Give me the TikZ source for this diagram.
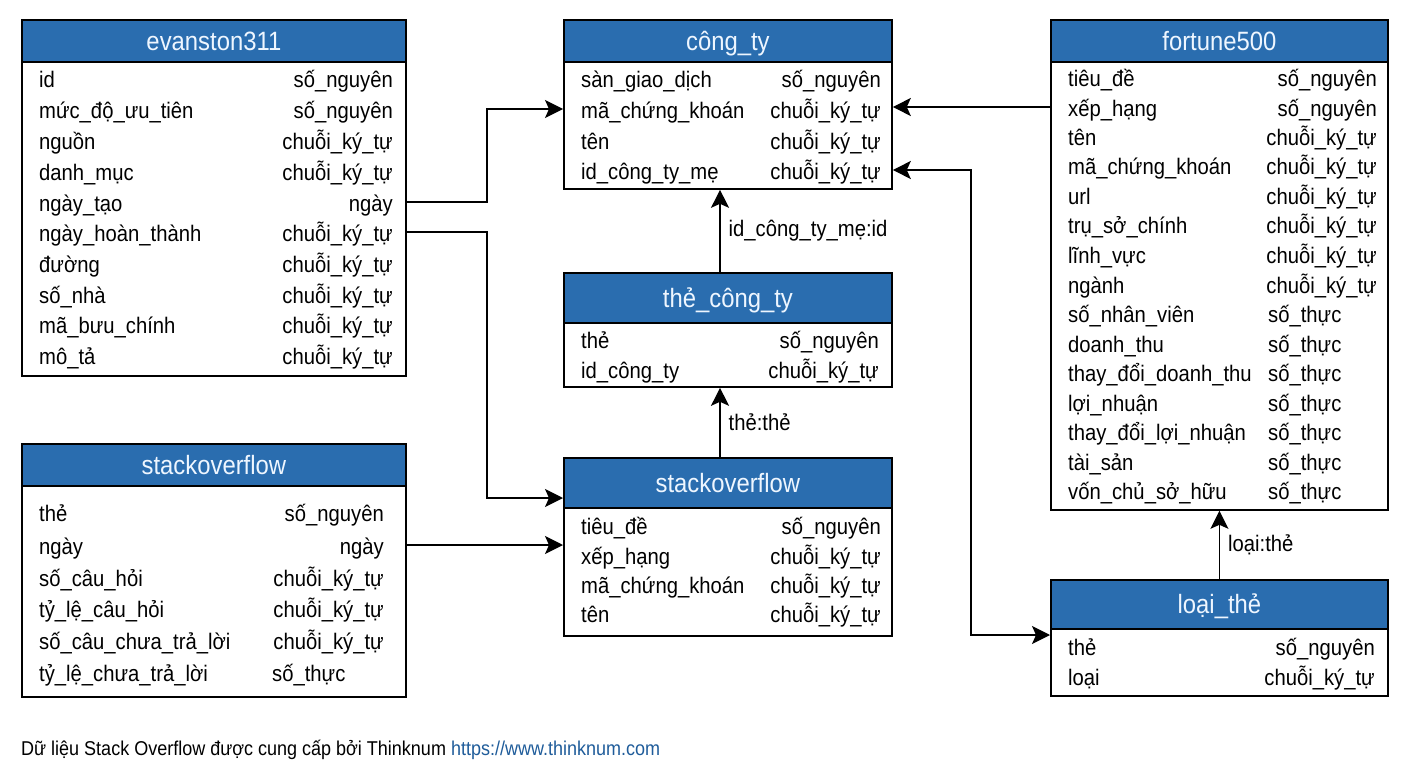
\documentclass[tikz,border=0pt]{standalone}
\usepackage{fontspec}
\setmainfont{Liberation Sans}[FakeStretch=0.9]
\usepackage{tikz}
\usetikzlibrary{arrows.meta,positioning,calc}
\definecolor{hdrblue}{HTML}{2A6DAF}
\definecolor{hdrtext}{HTML}{EEF6FF}
\definecolor{urlblue}{HTML}{1F5C9A}

\begin{document}
\begin{tikzpicture}[
    x=1pt, y=-1pt,
    % --- STYLES ---
    tbody/.style={
        rectangle, draw=black, line width=1.8pt,
        fill=white, anchor=north west, inner sep=0pt
    },
    thead/.style={
        tbody, fill=hdrblue, text=hdrtext,
        text height=21pt, text depth=2pt,
        font=\fontsize{26.5}{30}\selectfont
    },
    fname/.style={anchor=west, inner sep=0pt, text height=20pt, text depth=2pt,
        font=\fontsize{22.5}{27}\selectfont},
    ftype/.style={fname, anchor=east},
    freal/.style={fname, anchor=west},
    lbl/.style={font=\fontsize{22.5}{27}\selectfont, inner sep=0pt, right=8pt},
    link/.style={-{Stealth[length=18pt, width=18pt, inset=4pt]}, line width=1.4pt},
    twoway/.style={{Stealth[length=18pt, width=18pt, inset=4pt]}-{Stealth[length=18pt, width=18pt, inset=4pt]}, line width=1.4pt}
]
\useasboundingbox (0,0) rectangle (1408,768);

% ===== 1. TABLE BOXES =====
\node[tbody, minimum width=384pt, minimum height=356pt] (ev) at (21,19) {};
\node[thead, minimum width=384pt, minimum height=42pt] (ev-h) at (21,19) {evanston311};

\node[tbody, minimum width=328pt, minimum height=169pt] (ct) at (563,19) {};
\node[thead, minimum width=328pt, minimum height=42pt] (ct-h) at (563,19) {công\_ty};

\node[tbody, minimum width=328pt, minimum height=114pt] (tct) at (563,272) {};
\node[thead, minimum width=328pt, minimum height=50pt] (tct-h) at (563,272) {thẻ\_công\_ty};

\node[tbody, minimum width=328pt, minimum height=178pt] (so2) at (563,457) {};
\node[thead, minimum width=328pt, minimum height=50pt] (so2-h) at (563,457) {stackoverflow};

\node[tbody, minimum width=337pt, minimum height=490pt] (fo) at (1050,19) {};
\node[thead, minimum width=337pt, minimum height=42pt] (fo-h) at (1050,19) {fortune500};

\node[tbody, minimum width=384pt, minimum height=253pt] (so) at (21,443) {};
\node[thead, minimum width=384pt, minimum height=42pt] (so-h) at (21,443) {stackoverflow};

\node[tbody, minimum width=337pt, minimum height=116pt] (lt) at (1050,579) {};
\node[thead, minimum width=337pt, minimum height=49pt] (lt-h) at (1050,579) {loại\_thẻ};

% ===== 2. FIELDS =====
% evanston311
\node[fname] (ev-n1) at (39,78) {id};                 \node[ftype] (ev-t1) at (393,78) {số\_nguyên};
\node[fname] (ev-n2) at (39,109) {mức\_độ\_ưu\_tiên};  \node[ftype] (ev-t2) at (393,109) {số\_nguyên};
\node[fname] (ev-n3) at (39,140) {nguồn};              \node[ftype] (ev-t3) at (393,140) {chuỗi\_ký\_tự};
\node[fname] (ev-n4) at (39,171) {danh\_mục};          \node[ftype] (ev-t4) at (393,171) {chuỗi\_ký\_tự};
\node[fname] (ev-n5) at (39,202) {ngày\_tạo};          \node[ftype] (ev-t5) at (393,202) {ngày};
\node[fname] (ev-n6) at (39,232) {ngày\_hoàn\_thành};  \node[ftype] (ev-t6) at (393,232) {chuỗi\_ký\_tự};
\node[fname] (ev-n7) at (39,263) {đường};              \node[ftype] (ev-t7) at (393,263) {chuỗi\_ký\_tự};
\node[fname] (ev-n8) at (39,294) {số\_nhà};            \node[ftype] (ev-t8) at (393,294) {chuỗi\_ký\_tự};
\node[fname] (ev-n9) at (39,324) {mã\_bưu\_chính};     \node[ftype] (ev-t9) at (393,324) {chuỗi\_ký\_tự};
\node[fname] (ev-n10) at (39,355) {mô\_tả};            \node[ftype] (ev-t10) at (393,355) {chuỗi\_ký\_tự};

% công_ty
\node[fname] (ct-n1) at (581,79) {sàn\_giao\_dịch};    \node[ftype] (ct-t1) at (881,79) {số\_nguyên};
\node[fname] (ct-n2) at (581,109) {mã\_chứng\_khoán};  \node[ftype] (ct-t2) at (881,109) {chuỗi\_ký\_tự};
\node[fname] (ct-n3) at (581,140) {tên};               \node[ftype] (ct-t3) at (881,140) {chuỗi\_ký\_tự};
\node[fname] (ct-n4) at (581,170) {id\_công\_ty\_mẹ};  \node[ftype] (ct-t4) at (881,170) {chuỗi\_ký\_tự};

% thẻ_công_ty
\node[fname] (tct-n1) at (581,339) {thẻ};              \node[ftype] (tct-t1) at (879,339) {số\_nguyên};
\node[fname] (tct-n2) at (581,369) {id\_công\_ty};     \node[ftype] (tct-t2) at (879,369) {chuỗi\_ký\_tự};

% stackoverflow (giữa)
\node[fname] (so2-n1) at (581,525) {tiêu\_đề};         \node[ftype] (so2-t1) at (881,525) {số\_nguyên};
\node[fname] (so2-n2) at (581,555) {xếp\_hạng};        \node[ftype] (so2-t2) at (881,555) {chuỗi\_ký\_tự};
\node[fname] (so2-n3) at (581,584) {mã\_chứng\_khoán}; \node[ftype] (so2-t3) at (881,584) {chuỗi\_ký\_tự};
\node[fname] (so2-n4) at (581,613) {tên};              \node[ftype] (so2-t4) at (881,613) {chuỗi\_ký\_tự};

% fortune500
\node[fname] (fo-n1) at (1068,77) {tiêu\_đề};          \node[ftype] (fo-t1) at (1377,77) {số\_nguyên};
\node[fname] (fo-n2) at (1068,107) {xếp\_hạng};        \node[ftype] (fo-t2) at (1377,107) {số\_nguyên};
\node[fname] (fo-n3) at (1068,136) {tên};              \node[ftype] (fo-t3) at (1377,136) {chuỗi\_ký\_tự};
\node[fname] (fo-n4) at (1068,165) {mã\_chứng\_khoán}; \node[ftype] (fo-t4) at (1377,165) {chuỗi\_ký\_tự};
\node[fname] (fo-n5) at (1068,195) {url};              \node[ftype] (fo-t5) at (1377,195) {chuỗi\_ký\_tự};
\node[fname] (fo-n6) at (1068,224) {trụ\_sở\_chính};   \node[ftype] (fo-t6) at (1377,224) {chuỗi\_ký\_tự};
\node[fname] (fo-n7) at (1068,254) {lĩnh\_vực};        \node[ftype] (fo-t7) at (1377,254) {chuỗi\_ký\_tự};
\node[fname] (fo-n8) at (1068,284) {ngành};            \node[ftype] (fo-t8) at (1377,284) {chuỗi\_ký\_tự};
\node[fname] (fo-n9) at (1068,313) {số\_nhân\_viên};   \node[freal] (fo-t9) at (1268,313) {số\_thực};
\node[fname] (fo-n10) at (1068,343) {doanh\_thu};      \node[freal] (fo-t10) at (1268,343) {số\_thực};
\node[fname] (fo-n11) at (1068,372) {thay\_đổi\_doanh\_thu}; \node[freal] (fo-t11) at (1268,372) {số\_thực};
\node[fname] (fo-n12) at (1068,402) {lợi\_nhuận};      \node[freal] (fo-t12) at (1268,402) {số\_thực};
\node[fname] (fo-n13) at (1068,431) {thay\_đổi\_lợi\_nhuận}; \node[freal] (fo-t13) at (1268,431) {số\_thực};
\node[fname] (fo-n14) at (1068,461) {tài\_sản};        \node[freal] (fo-t14) at (1268,461) {số\_thực};
\node[fname] (fo-n15) at (1068,490) {vốn\_chủ\_sở\_hữu}; \node[freal] (fo-t15) at (1268,490) {số\_thực};

% stackoverflow (trái)
\node[fname] (so-n1) at (39,512) {thẻ};                \node[ftype] (so-t1) at (384,512) {số\_nguyên};
\node[fname] (so-n2) at (39,545) {ngày};               \node[ftype] (so-t2) at (384,545) {ngày};
\node[fname] (so-n3) at (39,577) {số\_câu\_hỏi};       \node[ftype] (so-t3) at (384,577) {chuỗi\_ký\_tự};
\node[fname] (so-n4) at (39,608) {tỷ\_lệ\_câu\_hỏi};   \node[ftype] (so-t4) at (384,608) {chuỗi\_ký\_tự};
\node[fname] (so-n5) at (39,640) {số\_câu\_chưa\_trả\_lời}; \node[ftype] (so-t5) at (384,640) {chuỗi\_ký\_tự};
\node[fname] (so-n6) at (39,672) {tỷ\_lệ\_chưa\_trả\_lời}; \node[freal] (so-t6) at (272,672) {số\_thực};

% loại_thẻ
\node[fname] (lt-n1) at (1068,646) {thẻ};              \node[ftype] (lt-t1) at (1375,646) {số\_nguyên};
\node[fname] (lt-n2) at (1068,676) {loại};             \node[ftype] (lt-t2) at (1375,676) {chuỗi\_ký\_tự};

% ===== 3. CONNECTIONS =====
\coordinate (bendL) at (487,0);
\coordinate (bendR) at (971,0);
\coordinate (midX) at (720,0);
\coordinate (so2-in) at (563,498);
\coordinate (lt-in) at (1050,635);

\draw[link] (ev.east |- ev-t5) -| (bendL |- ct-t2) -- (ct.west |- ct-t2);
\draw[link] (ev.east |- ev-t6) -| (bendL |- so2-in) -- (so2-in);
\draw[link] (so.east |- so-t2) -- (so2.west |- so-t2);
\draw[link] (fo.west |- fo-n2) -- (ct.east |- fo-n2);
\draw[twoway] (ct.east |- ct-t4) -| (bendR |- lt-in) -- (lt-in);

\draw[link] (midX |- tct.north) -- node[lbl] {id\_công\_ty\_mẹ:id} (midX |- ct.south);
\draw[link] (midX |- so2.north) -- node[lbl] {thẻ:thẻ} (midX |- tct.south);
\draw[link] (lt.north) -- node[lbl] {loại:thẻ} (fo.south);

% ===== 4. NOTE =====
\node[anchor=west, inner sep=0pt, font=\fontsize{20}{24}\selectfont] (note) at (21,750)
    {Dữ liệu Stack Overflow được cung cấp bởi Thinknum \textcolor{urlblue}{https://www.thinknum.com}};

\end{tikzpicture}
\end{document}
